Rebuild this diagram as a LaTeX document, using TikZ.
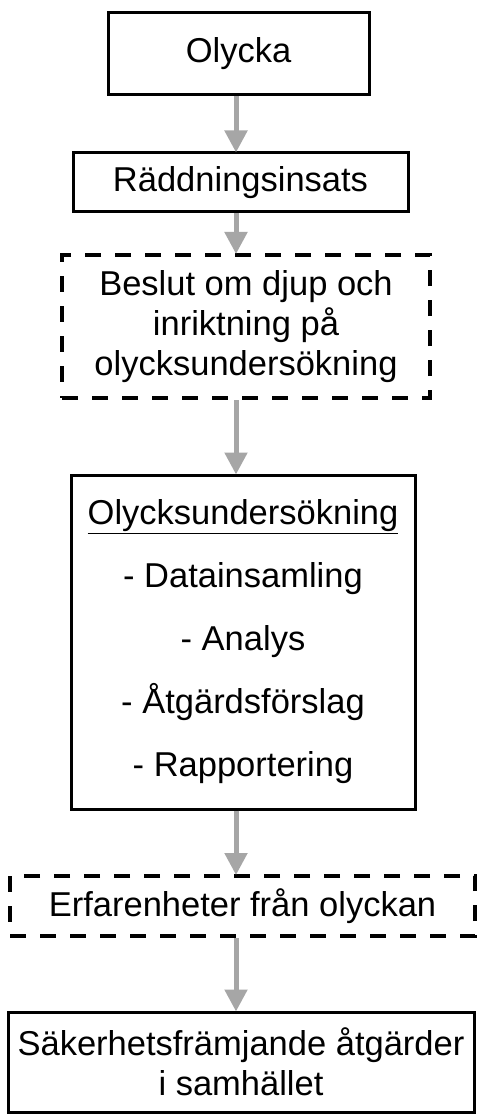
\documentclass[tikz,border=0pt]{standalone}
\usepackage{fontspec}
\setmainfont{Liberation Sans}
\usetikzlibrary{arrows.meta}
\begin{document}
\begin{tikzpicture}[x=1pt,y=1pt,
  box/.style={draw=black, line width=3pt, inner sep=0pt, align=center,
    font=\fontsize{34.5}{40}\selectfont},
  dashbox/.style={box, line width=4pt, dash pattern=on 16pt off 14pt},
  arr/.style={draw=black!35, line width=5pt,
    -{Triangle[width=22pt,length=22pt,fill=black!35]}, shorten >=-1pt}]
\useasboundingbox (0,0) rectangle (477,-1115);
\fill[white] (0,0) rectangle (477,-1115);
\node[box, minimum width=261pt, minimum height=82pt] (a) at (238.5,-54) {Olycka};
\node[box, minimum width=335pt, minimum height=59pt] (b) at (240.5,-182.5) {Räddningsinsats};
\node[dashbox, minimum width=368pt, minimum height=143pt] (c) at (246,-326.5)
  {\raisebox{-4pt}{\parbox{360pt}{\centering Beslut om djup och\\inriktning på\\olycksundersökning}}};
\node[box, minimum width=344pt, minimum height=334pt,
  font=\fontsize{34.5}{63}\selectfont] (d) at (243,-642)
  {\underline{Olycksundersökning}\\- Datainsamling\\- Analys\\- Åtgärdsförslag\\- Rapportering};
\node[dashbox, minimum width=465pt, minimum height=60pt] (e) at (242.5,-906)
  {Erfarenheter från olyckan};
\node[box, minimum width=466pt, minimum height=100pt] (f) at (241,-1062)
  {\raisebox{-5pt}{\parbox{460pt}{\centering Säkerhetsfrämjande åtgärder\\i samhället}}};
\coordinate (ax) at (236,0);
\draw[arr] (a.south -| ax) -- (b.north -| ax);
\draw[arr] (b.south -| ax) -- (c.north -| ax);
\draw[arr] (c.south -| ax) -- (d.north -| ax);
\draw[arr] (d.south -| ax) -- (e.north -| ax);
\draw[arr] (e.south -| ax) -- (f.north -| ax);
\end{tikzpicture}
\end{document}
